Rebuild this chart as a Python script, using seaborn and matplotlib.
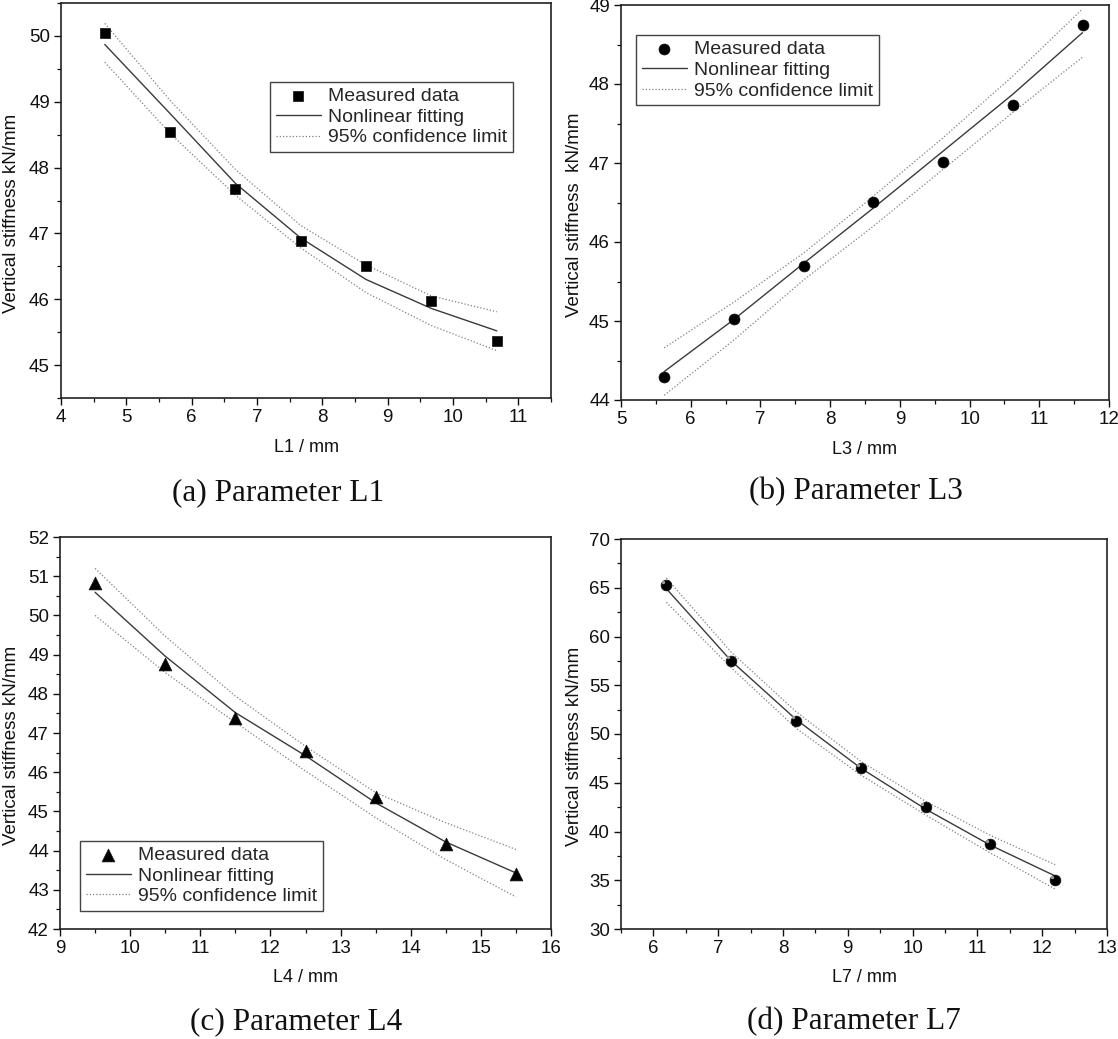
import numpy as np
import pandas as pd
import matplotlib
matplotlib.use("Agg")
import matplotlib.pyplot as plt
from matplotlib.ticker import MultipleLocator
import seaborn as sns

# ---------------- data ----------------
# (a) Parameter L1
l1_x = [4.67, 5.67, 6.67, 7.67, 8.67, 9.67, 10.67]
l1_meas = [50.05, 48.54, 47.67, 46.88, 46.50, 45.98, 45.36]
l1_fit = [49.87, 48.82, 47.76, 46.93, 46.30, 45.86, 45.52]
l1_upper = [50.19, 49.02, 47.97, 47.12, 46.52, 46.05, 45.81]
l1_lower = [49.60, 48.52, 47.58, 46.78, 46.10, 45.60, 45.22]

# (b) Parameter L3
l3_x = [5.62, 6.62, 7.62, 8.62, 9.62, 10.62, 11.62]
l3_meas = [44.29, 45.03, 45.69, 46.51, 47.01, 47.74, 48.75]
l3_fit = [44.36, 45.02, 45.73, 46.43, 47.15, 47.87, 48.65]
l3_upper = [44.66, 45.24, 45.86, 46.58, 47.32, 48.10, 48.95]
l3_lower = [44.06, 44.76, 45.52, 46.20, 46.92, 47.64, 48.34]

# (c) Parameter L4
l4_x = [9.5, 10.5, 11.5, 12.5, 13.5, 14.5, 15.5]
l4_meas = [50.83, 48.77, 47.39, 46.54, 45.37, 44.18, 43.41]
l4_fit = [50.59, 48.96, 47.52, 46.42, 45.22, 44.22, 43.43]
l4_upper = [51.20, 49.47, 47.94, 46.66, 45.48, 44.71, 44.03]
l4_lower = [50.00, 48.54, 47.27, 46.03, 44.84, 43.77, 42.82]

# (d) Parameter L7
l7_x = [6.2, 7.2, 8.2, 9.2, 10.2, 11.2, 12.2]
l7_meas = [65.24, 57.50, 51.36, 46.50, 42.50, 38.67, 35.00]
l7_fit = [64.90, 57.50, 51.50, 46.50, 42.30, 38.60, 35.44]
l7_upper = [66.00, 58.40, 52.30, 47.20, 43.10, 39.60, 36.60]
l7_lower = [63.50, 56.80, 50.60, 45.80, 41.70, 37.80, 34.10]

legend_labels = ["Measured data", "Nonlinear fitting", "95% confidence limit"]
x_labels = ["L1 / mm", "L3 / mm", "L4 / mm", "L7 / mm"]
y_labels = ["Vertical stiffness kN/mm", "Vertical stiffness  kN/mm",
            "Vertical stiffness kN/mm", "Vertical stiffness kN/mm"]
captions = ["(a) Parameter L1", "(b) Parameter L3", "(c) Parameter L4", "(d) Parameter L7"]

# ---------------- style ----------------
sns.set_theme(style="ticks")
plt.rcParams["font.family"] = ["Liberation Sans", "DejaVu Sans"]

W, H = 1118, 1039
fig = plt.figure(figsize=(W / 100, H / 100), dpi=100)
fig.patch.set_facecolor("white")


def axpos(l, t, r, b):
    return [l / W, 1 - b / H, (r - l) / W, (b - t) / H]


panels = [
    dict(pos=axpos(61, 3, 551, 398), x=l1_x, m=l1_meas, f=l1_fit, u=l1_upper, lo=l1_lower,
         marker="s", s=55, xlim=(4, 11.5), ylim=(44.5, 50.5), xmaj=1, ymaj=1, ymin=0.5,
         leg=dict(loc="upper left", bbox_to_anchor=(0.4265, 0.80)),
         cap=(278, 493), ylx=-0.102),
    dict(pos=axpos(621, 5, 1109, 400), x=l3_x, m=l3_meas, f=l3_fit, u=l3_upper, lo=l3_lower,
         marker="o", s=62, xlim=(5, 12), ylim=(44, 49), xmaj=1, ymaj=1, ymin=0.5,
         leg=dict(loc="upper left", bbox_to_anchor=(0.031, 0.924)),
         cap=(856, 492), ylx=-0.096),
    dict(pos=axpos(60, 537, 551, 929), x=l4_x, m=l4_meas, f=l4_fit, u=l4_upper, lo=l4_lower,
         marker="^", s=85, xlim=(9, 16), ylim=(42, 52), xmaj=1, ymaj=1, ymin=0.5,
         leg=dict(loc="lower left", bbox_to_anchor=(0.041, 0.046)),
         cap=(296, 1022), ylx=-0.098),
    dict(pos=axpos(621, 539, 1107, 929), x=l7_x, m=l7_meas, f=l7_fit, u=l7_upper, lo=l7_lower,
         marker="o", s=60, xlim=(5.5, 13), ylim=(30, 70), xmaj=1, ymaj=5, ymin=2.5,
         leg=None, cap=(854, 1022), ylx=-0.096),
]

for i, p in enumerate(panels):
    ax = fig.add_axes(p["pos"])
    df = pd.DataFrame({"x": p["x"], "meas": p["m"], "fit": p["f"],
                       "upper": p["u"], "lower": p["lo"]})
    sns.lineplot(data=df, x="x", y="upper", ax=ax, color="#808080", lw=0.9,
                 linestyle=(0, (1, 1.6)), label=legend_labels[2], zorder=2)
    sns.lineplot(data=df, x="x", y="lower", ax=ax, color="#808080", lw=0.9,
                 linestyle=(0, (1, 1.6)), label="_nolegend_", zorder=2)
    sns.lineplot(data=df, x="x", y="fit", ax=ax, color="#3a3a3a", lw=1.0,
                 label=legend_labels[1], zorder=3)
    sns.scatterplot(data=df, x="x", y="meas", ax=ax, marker=p["marker"], s=p["s"],
                    color="black", edgecolor="#111111", linewidth=0.5,
                    label=legend_labels[0], zorder=4)
    if i == 3:
        # small highlight to mimic shaded spheres
        ax.scatter(np.array(p["x"]) - 0.05, np.array(p["m"]) + 0.35, s=6,
                   color="#9a9a9a", zorder=5, linewidths=0)

    ax.set_xlim(*p["xlim"])
    ax.set_ylim(*p["ylim"])
    ax.xaxis.set_major_locator(MultipleLocator(p["xmaj"]))
    ax.xaxis.set_minor_locator(MultipleLocator(0.5))
    ax.yaxis.set_major_locator(MultipleLocator(p["ymaj"]))
    ax.yaxis.set_minor_locator(MultipleLocator(p["ymin"]))
    ax.tick_params(axis="both", which="major", direction="out", length=5, width=1.0,
                   labelsize=13.5, colors="#111111", pad=3)
    ax.tick_params(axis="both", which="minor", direction="out", length=3, width=0.9,
                   colors="#111111")
    ax.tick_params(top=False, right=False, which="both")
    for sp in ax.spines.values():
        sp.set_visible(True)
        sp.set_color("#222222")
        sp.set_linewidth(1.2)

    ax.set_xlabel(x_labels[i], fontsize=13, color="#111111")
    ax.set_ylabel(y_labels[i], fontsize=13.5, color="#111111")
    ax.xaxis.set_label_coords(0.5, -0.125)
    ax.xaxis.label.set_va("center")
    ax.yaxis.set_label_coords(p["ylx"], 0.468)
    ax.yaxis.label.set_va("center")

    if p["leg"] is not None:
        h, lab = ax.get_legend_handles_labels()
        order = [lab.index(t) for t in legend_labels]
        leg = ax.legend([h[k] for k in order], [lab[k] for k in order],
                        fontsize=14, frameon=True, fancybox=False, shadow=False,
                        framealpha=1, edgecolor="#444444", handlelength=2.3,
                        handletextpad=0.4, labelspacing=0.15, borderpad=0.3,
                        borderaxespad=0, **p["leg"])
        leg.get_frame().set_linewidth(1.0)
    else:
        if ax.get_legend() is not None:
            ax.get_legend().remove()

    fig.text(p["cap"][0] / W, 1 - p["cap"][1] / H, captions[i],
             family=["Liberation Serif", "DejaVu Serif"], fontsize=22.5,
             ha="center", va="center", color="#111111")

fig.savefig("out.png", dpi=100, facecolor="white")
